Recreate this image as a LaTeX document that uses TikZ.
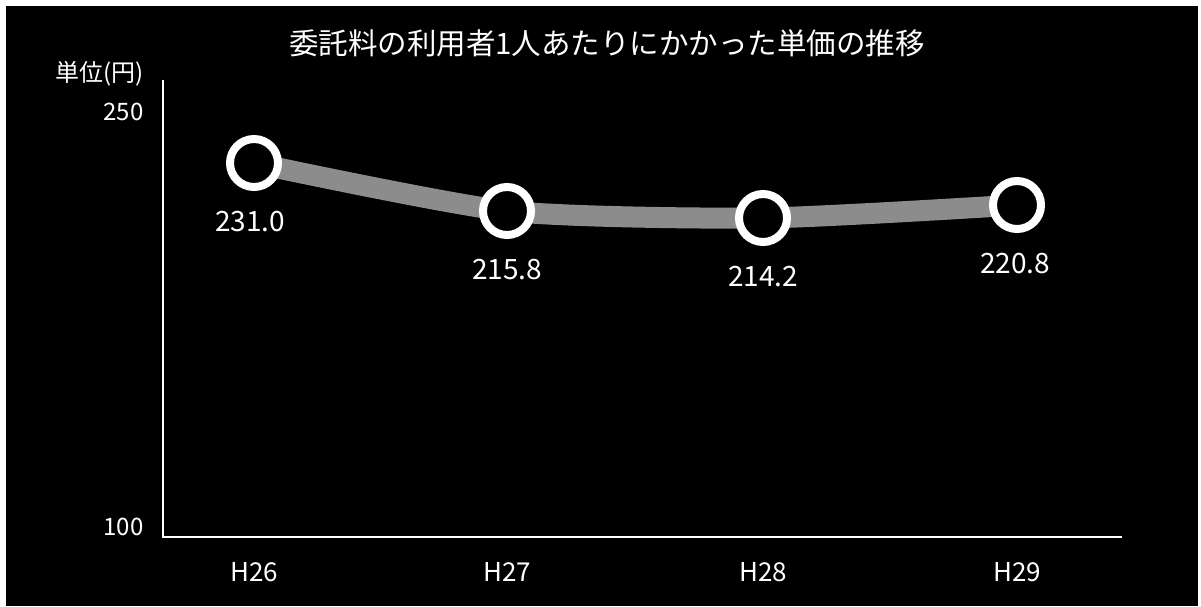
\documentclass[tikz,border=0pt]{standalone}
\usepackage{fontspec}
\setmainfont{Noto Sans CJK JP}
\usetikzlibrary{positioning}
\definecolor{bandgray}{gray}{0.55}
\tikzstyle{point} = [circle, draw=white, line width=8pt, fill=black, minimum size=48pt, inner sep=0pt]
\tikzstyle{value} = [text=white, font=\fontsize{28}{32}\selectfont]
\tikzstyle{year} = [text=white, font=\fontsize{26}{30}\selectfont]
\tikzstyle{tick} = [text=white, anchor=east, font=\fontsize{24}{28}\selectfont]
\tikzstyle{axis} = [draw=white, line width=1.6pt]
\tikzstyle{band} = [draw=bandgray, line width=21pt]

\begin{document}
\begin{tikzpicture}[x=1pt, y=-1pt]
      \useasboundingbox (0,0) rectangle (1201,606);
      \fill[white] (0,0) rectangle (1201,606);
      \fill[black] (6,6) rectangle (1198,606);

      \node (title) [text=white, font=\fontsize{29.5}{34}\selectfont] at (607,43) {委託料の利用者1人あたりにかかった単価の推移};
      \node (unit) [tick] at (147,74) {単位(円)};
      \node (y250) [tick] at (147,112) {250};
      \node (y100) [tick] at (147,527) {100};

      \coordinate (top) at (163,80);
      \coordinate (origin) at (163,537);
      \coordinate (xend) at (1122,537);
      \draw [axis] (top) -- (origin) -- (xend);

      \coordinate (p26) at (254,163);
      \coordinate (p27) at (507,211);
      \coordinate (p28) at (763,218);
      \coordinate (p29) at (1017,205);
      \draw [band] plot [smooth, tension=0.4] coordinates {(p26) (p27) (p28) (p29)};

      \node (c26) [point] at (p26) {};
      \node (c27) [point] at (p27) {};
      \node (c28) [point] at (p28) {};
      \node (c29) [point] at (p29) {};

      \node (v26) [value, below=17pt of c26, xshift=-4pt] {231.0};
      \node (v27) [value, below=17pt of c27] {215.8};
      \node (v28) [value, below=17pt of c28] {214.2};
      \node (v29) [value, below=17pt of c29, xshift=-2pt] {220.8};

      \node (h26) [year] at (254,572) {H26};
      \node (h27) [year] at (507,572) {H27};
      \node (h28) [year] at (763,572) {H28};
      \node (h29) [year] at (1017,572) {H29};
    \end{tikzpicture}
\end{document}
